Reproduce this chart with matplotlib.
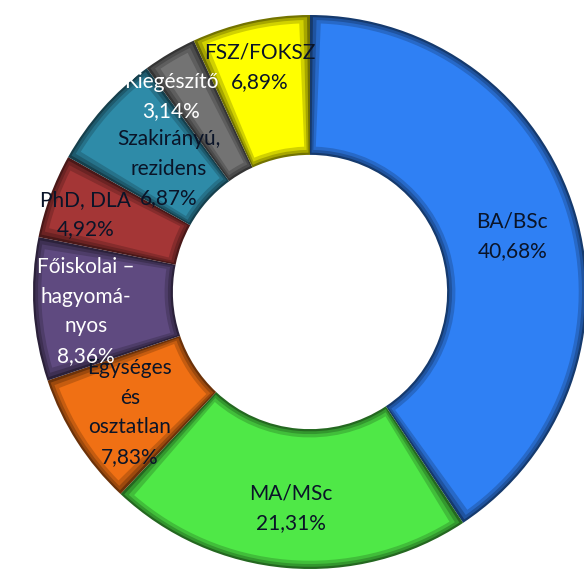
import numpy as np
import matplotlib.pyplot as plt
import matplotlib.colors as mcolors
from matplotlib.patches import Wedge

# data (clockwise from 12 o'clock)
categories = ['BA/BSc', 'MA/MSc', 'Egységes\nés\nosztatlan', 'Főiskolai –\nhagyomá-\nnyos',
              'PhD, DLA', 'Szakirányú,\nrezidens', 'Kiegészítő', 'FSZ/FOKSZ']
shares = [40.68, 21.31, 7.83, 8.36, 4.92, 6.87, 3.14, 6.89]
colors = ['#2F80F4', '#4FE847', '#F07014', '#5F4A80', '#A43636', '#2E8BA8', '#737373', '#FFFF00']
text_colors = ['#0A1428', '#0A1428', '#0A1428', 'white', '#0A1428', '#0A1428', 'white', '#0A1428']

# label anchor points in axes data units (radius 1 = outer edge)
label_pos = [(0.73, 0.20), (-0.07, -0.78), (-0.65, -0.435), (-0.81, -0.07),
             (-0.81, 0.28), (-0.51, 0.445), (-0.50, 0.705), (-0.18, 0.81)]

plt.rcParams['font.family'] = ['Lato', 'DejaVu Sans']

fig = plt.figure(figsize=(5.84, 5.74), dpi=100)
ax = fig.add_axes([(310 - 277) / 584, (574 - 292 - 277) / 574, 554 / 584, 554 / 574])

W = 0.505
wedges, _ = ax.pie(shares, colors=colors, startangle=90, counterclock=False,
                   radius=1, wedgeprops=dict(width=W, linewidth=0))

# fake bevel: darker rim, then lighter insets on top
for w, c in zip(wedges, colors):
    rgb = np.array(mcolors.to_rgb(c))
    w.set_facecolor(rgb * 0.45)
    t1, t2 = w.theta1, w.theta2
    for d, k in [(0.008, 0.65), (0.018, 0.82), (0.03, 1.0)]:
        da = np.degrees(d / 0.75)
        ax.add_patch(Wedge((0, 0), 1 - d, t1 + da, t2 - da, width=W - 2 * d,
                           facecolor=np.clip(rgb * k, 0, 1), linewidth=0))

for cat, val, (x, y), tc in zip(categories, shares, label_pos, text_colors):
    txt = cat + '\n' + f'{val:.2f}'.replace('.', ',') + '%'
    ax.text(x, y, txt, ha='center', va='center', fontsize=15, color=tc,
            linespacing=1.6, zorder=5)

ax.set_xlim(-1, 1)
ax.set_ylim(-1, 1)
ax.set_aspect('equal')
ax.axis('off')

fig.savefig('out.png', dpi=100)
